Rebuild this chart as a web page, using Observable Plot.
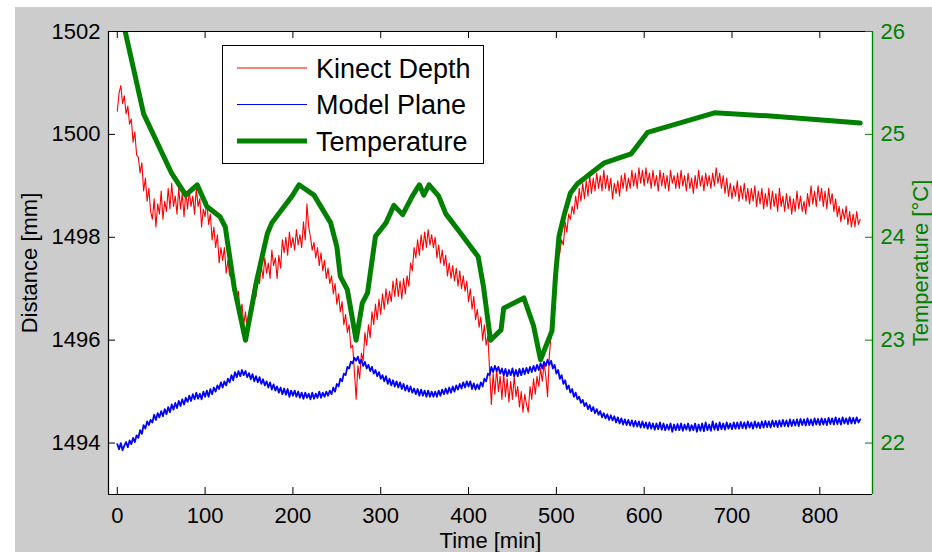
<!DOCTYPE html>
<html><head><meta charset="utf-8">
<script src="https://cdn.jsdelivr.net/npm/d3@7"></script>
<script src="https://cdn.jsdelivr.net/npm/@observablehq/plot@0.6"></script>
<style>
html,body{margin:0;padding:0;background:#fff;width:932px;height:552px;overflow:hidden;font-family:"Liberation Sans",Arial,Helvetica,sans-serif;}
#bg{position:absolute;left:15px;top:7px;right:0;bottom:0;background:#cccccc;}
#chart{position:absolute;left:0;top:0;}
#legend{position:absolute;left:0;top:0;}
</style></head><body>
<div id="bg"></div>
<div id="chart"></div>
<svg id="legend" width="932" height="552"></svg>
<script>
// ---- data ----
const sampleStep = 2; // minutes between samples of the two distance series
const kinectDepth = [
1500.45,1500.8,1500.95,1500.6,1500.75,1500.4,1500.55,1500.2,1500.3,1499.85,1500.05,1499.6,1499.55,1499.25,1499.45,1498.9,1499.15,1498.7,1498.95,1498.5,
1498.35,1498.75,1498.2,1498.65,1498.45,1498.9,1498.35,1498.7,1498.5,1498.95,1498.55,1499.05,1498.6,1498.8,1498.45,1498.95,1498.55,1498.85,1498.4,1498.9,
1498.55,1498.9,1498.6,1498.8,1498.45,1498.95,1498.6,1498.75,1498.2,1498.55,1498.4,1498.7,1498.25,1498.45,1497.95,1498.2,1497.8,1498.05,1497.5,1497.8,
1497.55,1497.8,1497.3,1497.55,1497.25,1497.4,1496.95,1497.15,1496.75,1496.95,1496.5,1496.7,1496.3,1496.55,1496.2,1496.45,1496.6,1496.9,1497.1,1496.85,
1497.35,1497.1,1497.45,1497.2,1497.6,1497.3,1497.5,1497.2,1497.75,1497.45,1497.6,1497.2,1497.65,1497.4,1497.95,1497.7,1498.0,1497.65,1498.1,1497.8,
1498.0,1497.75,1498.15,1497.85,1498.05,1497.8,1498.3,1497.95,1498.65,1498.2,1498.0,1497.75,1497.9,1497.6,1497.8,1497.45,1497.7,1497.35,1497.55,1497.2,
1497.4,1497.1,1497.25,1496.9,1497.1,1496.7,1496.9,1496.55,1496.75,1496.3,1496.5,1496.15,1496.3,1495.85,1495.9,1495.4,1494.85,1495.5,1495.25,1495.75,
1495.6,1496.15,1495.9,1496.3,1496.05,1496.55,1496.3,1496.7,1496.4,1496.8,1496.5,1496.9,1496.6,1497.0,1496.7,1496.95,1496.75,1497.15,1496.85,1497.2,
1496.85,1497.15,1496.8,1497.2,1496.9,1497.25,1497.05,1497.5,1497.35,1497.8,1497.6,1497.95,1497.65,1498.05,1497.75,1498.1,1497.8,1498.15,1497.85,1498.05,
1497.8,1498.0,1497.6,1497.85,1497.5,1497.75,1497.45,1497.65,1497.25,1497.5,1497.2,1497.45,1497.15,1497.4,1497.05,1497.35,1497.0,1497.25,1496.95,1497.15,
1496.75,1497.0,1496.6,1496.85,1496.4,1496.6,1496.25,1496.45,1496.0,1496.3,1495.9,1496.1,1495.4,1494.75,1495.35,1494.95,1495.45,1495.0,1495.3,1494.85,
1495.35,1494.9,1495.25,1494.8,1495.2,1494.85,1495.3,1494.9,1495.1,1494.7,1495.0,1494.6,1494.95,1494.75,1494.6,1495.1,1494.85,1495.25,1494.95,1495.3,
1495.1,1495.45,1495.2,1495.55,1495.3,1494.9,1495.7,1496.1,1496.55,1496.95,1497.3,1497.6,1497.7,1497.95,1497.85,1498.3,1498.1,1498.45,1498.35,1498.6,
1498.45,1498.8,1498.55,1498.95,1498.7,1499.05,1498.75,1499.1,1498.8,1499.2,1498.85,1499.15,1498.9,1499.25,1498.95,1499.2,1498.9,1499.3,1498.95,1499.2,
1498.9,1499.15,1498.75,1499.05,1498.85,1499.1,1498.8,1499.2,1498.95,1499.25,1498.9,1499.15,1498.95,1499.3,1499.0,1499.25,1498.95,1499.35,1499.05,1499.3,
1499.0,1499.35,1499.05,1499.25,1498.95,1499.3,1499.0,1499.2,1498.9,1499.3,1499.0,1499.25,1498.95,1499.2,1498.9,1499.3,1499.05,1499.2,1498.95,1499.25,
1498.95,1499.3,1499.0,1499.2,1498.9,1499.25,1498.95,1499.15,1498.85,1499.2,1498.95,1499.3,1499.0,1499.2,1498.9,1499.25,1499.0,1499.2,1498.95,1499.25,
1499.0,1499.35,1499.05,1499.25,1498.95,1499.2,1498.85,1499.15,1498.8,1499.05,1498.75,1499.0,1498.8,1499.1,1498.7,1499.0,1498.75,1499.05,1498.7,1498.95,
1498.65,1498.95,1498.7,1499.0,1498.6,1498.9,1498.65,1498.95,1498.55,1498.85,1498.6,1498.95,1498.55,1498.9,1498.6,1498.85,1498.5,1498.95,1498.6,1498.8,
1498.5,1498.85,1498.55,1498.8,1498.45,1498.75,1498.5,1498.9,1498.55,1498.8,1498.5,1498.7,1498.45,1498.85,1498.6,1499.0,1498.65,1498.9,1498.6,1499.0,
1498.7,1498.95,1498.6,1498.9,1498.55,1498.95,1498.65,1498.85,1498.5,1498.75,1498.4,1498.6,1498.3,1498.55,1498.35,1498.6,1498.25,1498.5,1498.2,1498.45,
1498.2,1498.5,1498.25,1498.35
];
const modelPlane = [
1493.98,1493.88,1494.0,1493.86,1493.95,1494.02,1493.92,1494.05,1493.98,1494.1,1494.02,1494.15,1494.1,1494.25,1494.18,1494.35,1494.28,1494.42,1494.35,1494.45,
1494.4,1494.55,1494.45,1494.58,1494.5,1494.62,1494.52,1494.66,1494.56,1494.7,1494.6,1494.75,1494.65,1494.78,1494.68,1494.82,1494.72,1494.85,1494.75,1494.88,
1494.8,1494.92,1494.82,1494.95,1494.85,1494.98,1494.86,1494.96,1494.85,1495.0,1494.9,1495.02,1494.9,1495.05,1494.95,1495.08,1495.0,1495.12,1495.05,1495.18,
1495.08,1495.2,1495.12,1495.25,1495.18,1495.32,1495.22,1495.38,1495.28,1495.4,1495.3,1495.42,1495.32,1495.4,1495.28,1495.36,1495.24,1495.34,1495.2,1495.3,
1495.18,1495.28,1495.15,1495.24,1495.12,1495.2,1495.08,1495.18,1495.04,1495.14,1495.02,1495.1,1494.98,1495.08,1494.95,1495.06,1494.94,1495.05,1494.9,1495.02,
1494.92,1495.02,1494.9,1495.0,1494.88,1494.98,1494.86,1494.98,1494.88,1494.96,1494.85,1494.98,1494.86,1494.96,1494.88,1495.0,1494.88,1494.98,1494.9,1495.0,
1494.92,1495.02,1494.95,1495.08,1495.0,1495.15,1495.1,1495.25,1495.2,1495.35,1495.32,1495.48,1495.45,1495.58,1495.55,1495.66,1495.6,1495.68,1495.55,1495.62,
1495.5,1495.58,1495.45,1495.52,1495.4,1495.48,1495.35,1495.42,1495.3,1495.38,1495.25,1495.32,1495.2,1495.3,1495.15,1495.25,1495.12,1495.22,1495.1,1495.2,
1495.08,1495.18,1495.05,1495.15,1495.02,1495.12,1495.0,1495.1,1494.98,1495.06,1494.95,1495.05,1494.92,1495.04,1494.92,1495.02,1494.9,1495.02,1494.9,1495.0,
1494.9,1495.0,1494.9,1495.02,1494.92,1495.04,1494.95,1495.06,1494.96,1495.08,1494.98,1495.1,1495.0,1495.12,1495.04,1495.15,1495.06,1495.18,1495.08,1495.2,
1495.1,1495.2,1495.05,1495.16,1495.04,1495.14,1495.05,1495.18,1495.1,1495.25,1495.2,1495.35,1495.32,1495.48,1495.38,1495.5,1495.4,1495.48,1495.35,1495.45,
1495.32,1495.44,1495.3,1495.42,1495.32,1495.45,1495.3,1495.42,1495.3,1495.44,1495.32,1495.45,1495.34,1495.46,1495.36,1495.48,1495.38,1495.5,1495.4,1495.52,
1495.42,1495.55,1495.45,1495.58,1495.5,1495.62,1495.52,1495.6,1495.45,1495.52,1495.35,1495.42,1495.25,1495.32,1495.15,1495.22,1495.05,1495.12,1494.98,1495.05,
1494.9,1494.98,1494.85,1494.9,1494.78,1494.84,1494.72,1494.78,1494.66,1494.74,1494.62,1494.7,1494.58,1494.66,1494.55,1494.62,1494.5,1494.58,1494.48,1494.56,
1494.45,1494.54,1494.44,1494.52,1494.4,1494.5,1494.38,1494.48,1494.36,1494.46,1494.35,1494.45,1494.34,1494.44,1494.32,1494.43,1494.32,1494.42,1494.3,1494.42,
1494.3,1494.4,1494.28,1494.4,1494.28,1494.38,1494.26,1494.38,1494.27,1494.4,1494.26,1494.38,1494.25,1494.36,1494.26,1494.38,1494.22,1494.36,1494.25,1494.37,
1494.25,1494.38,1494.24,1494.36,1494.26,1494.38,1494.24,1494.35,1494.25,1494.38,1494.22,1494.36,1494.24,1494.38,1494.23,1494.4,1494.25,1494.36,1494.24,1494.42,
1494.26,1494.38,1494.25,1494.4,1494.27,1494.38,1494.26,1494.4,1494.28,1494.38,1494.27,1494.4,1494.28,1494.4,1494.28,1494.41,1494.29,1494.4,1494.28,1494.42,
1494.3,1494.4,1494.28,1494.42,1494.3,1494.4,1494.29,1494.42,1494.3,1494.43,1494.31,1494.42,1494.3,1494.44,1494.32,1494.43,1494.31,1494.44,1494.32,1494.45,
1494.33,1494.44,1494.32,1494.46,1494.33,1494.45,1494.34,1494.46,1494.33,1494.47,1494.35,1494.46,1494.34,1494.48,1494.35,1494.46,1494.34,1494.48,1494.36,1494.47,
1494.35,1494.48,1494.36,1494.47,1494.35,1494.49,1494.37,1494.48,1494.36,1494.5,1494.37,1494.48,1494.36,1494.5,1494.38,1494.48,1494.37,1494.5,1494.38,1494.49,
1494.38,1494.5,1494.4,1494.46
];
const tempTime = [9,30,62,78,91,102,117,123,133,146,159,171,176,190,199,207,224,243,250,254,262,272,279,285,294,306,315,325,336,344,349,355,366,374,391,411,417,425,437,440,463,474,482,495,499,503,509,516,524,554,585,604,680,740,846];
const temperature = [26.0,25.20,24.62,24.41,24.51,24.30,24.20,24.10,23.52,23.0,23.59,24.04,24.14,24.30,24.40,24.51,24.41,24.14,23.91,23.62,23.49,23.0,23.36,23.46,24.01,24.14,24.31,24.22,24.40,24.51,24.41,24.51,24.40,24.23,24.04,23.81,23.52,23.0,23.10,23.31,23.41,23.14,22.81,23.09,23.62,24.01,24.22,24.43,24.52,24.72,24.81,25.02,25.21,25.18,25.11];
const xTicks = [0,100,200,300,400,500,600,700,800];
const distTicks = [1494,1496,1498,1500,1502];
const tempTicks = [22,23,24,25,26];
const seriesNames = ["Kinect Depth","Model Plane","Temperature"];
const seriesColors = ["#ff0000","#0000ff","#008000"];

// ---- axes limits ----
const xDomain = [-10, 860];
const distDomain = [1493, 1502];
const tempDomain = [21.5, 26];
// map temperature onto the left (distance) scale, as a second y axis
const toDist = t => distDomain[0] + (t - tempDomain[0]) * (distDomain[1]-distDomain[0])/(tempDomain[1]-tempDomain[0]);
const toTemp = d => tempDomain[0] + (d - distDomain[0]) * (tempDomain[1]-tempDomain[0])/(distDomain[1]-distDomain[0]);

const kinect = kinectDepth.map((v,i)=>({t:i*sampleStep, v}));
const model = modelPlane.map((v,i)=>({t:i*sampleStep, v}));
const temp = tempTime.map((t,i)=>({t, v: temperature[i]}));

const W=932, H=552, mL=108, mR=60, mT=31, mB=58;
const fw = W-mL-mR, fh = H-mT-mB;
const green = "#008000";
const font = "Liberation Sans, Arial, Helvetica, sans-serif";

const chart = Plot.plot({
  width: W, height: H,
  marginLeft: mL, marginRight: mR, marginTop: mT, marginBottom: mB,
  style: {background: "transparent", fontFamily: font, overflow: "visible"},
  x: {domain: xDomain},
  y: {domain: distDomain},
  marks: [
    Plot.frame({fill: "white", stroke: null}),
    Plot.line(kinect, {x: "t", y: "v", stroke: seriesColors[0], strokeWidth: 1.1, clip: true}),
    Plot.line(model, {x: "t", y: "v", stroke: seriesColors[1], strokeWidth: 1.8, clip: true}),
    Plot.line(temp, {x: "t", y: d => toDist(d.v), stroke: seriesColors[2], strokeWidth: 5, strokeLinejoin: "round", clip: true}),
    // box
    Plot.ruleY([distDomain[0]], {stroke: "black", strokeWidth: 1.2}),
    Plot.ruleY([distDomain[1]], {stroke: "black", strokeWidth: 1.2}),
    Plot.ruleX([xDomain[0]], {stroke: "black", strokeWidth: 1.2}),
    Plot.ruleX([xDomain[1]], {stroke: green, strokeWidth: 1.4}),
    // inward ticks
    Plot.tickX(xTicks, {x: d=>d, insetTop: fh-7, stroke: "black"}),
    Plot.tickX(xTicks, {x: d=>d, insetBottom: fh-7, stroke: "black"}),
    Plot.tickY(distTicks, {y: d=>d, insetRight: fw-7, stroke: "black"}),
    Plot.tickY(tempTicks.map(toDist), {y: d=>d, insetLeft: fw-7, stroke: green}),
    // tick labels
    Plot.axisX(xTicks, {anchor: "bottom", tickSize: 0, tickPadding: 13, fontSize: 22, label: null, color: "black", tickFormat: d => String(d)}),
    Plot.axisY(distTicks, {anchor: "left", tickSize: 0, tickPadding: 8, fontSize: 22, label: null, color: "black", tickFormat: d => String(d)}),
    Plot.axisY(tempTicks.map(toDist), {anchor: "right", tickSize: 0, tickPadding: 8, fontSize: 22, label: null, color: green, tickFormat: d => String(Math.round(toTemp(d)))}),
    // axis titles
    Plot.text(["Distance [mm]"], {text: d=>d, frameAnchor: "left", dx: -72, rotate: -90, textAnchor: "middle", lineAnchor: "bottom", fontSize: 22, fill: "black"}),
    Plot.text(["Time [min]"], {text: d=>d, frameAnchor: "bottom", dy: 53, textAnchor: "middle", lineAnchor: "bottom", fontSize: 22, fill: "black"}),
    Plot.text(["Temperature [°C]"], {text: d=>d, frameAnchor: "right", dx: 55.5, rotate: -90, textAnchor: "middle", lineAnchor: "bottom", fontSize: 22, fill: green})
  ]
});
document.getElementById("chart").appendChild(chart);

// ---- legend (inside the axes, top-left) ----
const lg = d3.select("#legend").attr("font-family", font);
lg.append("rect").attr("x", 222.5).attr("y", 45.5).attr("width", 261).attr("height", 118)
  .attr("fill", "white").attr("stroke", "black").attr("stroke-width", 1);
const rowY = [68, 104.5, 141];
const rowW = [1, 1, 5];
seriesNames.forEach((name, i) => {
  lg.append("line").attr("x1", 237).attr("x2", 307).attr("y1", rowY[i]).attr("y2", rowY[i])
    .attr("stroke", seriesColors[i]).attr("stroke-width", rowW[i]);
  lg.append("text").attr("x", 316).attr("y", rowY[i] + 9.8).attr("font-size", 27).attr("fill", "black").text(name);
});
</script>
</body></html>
